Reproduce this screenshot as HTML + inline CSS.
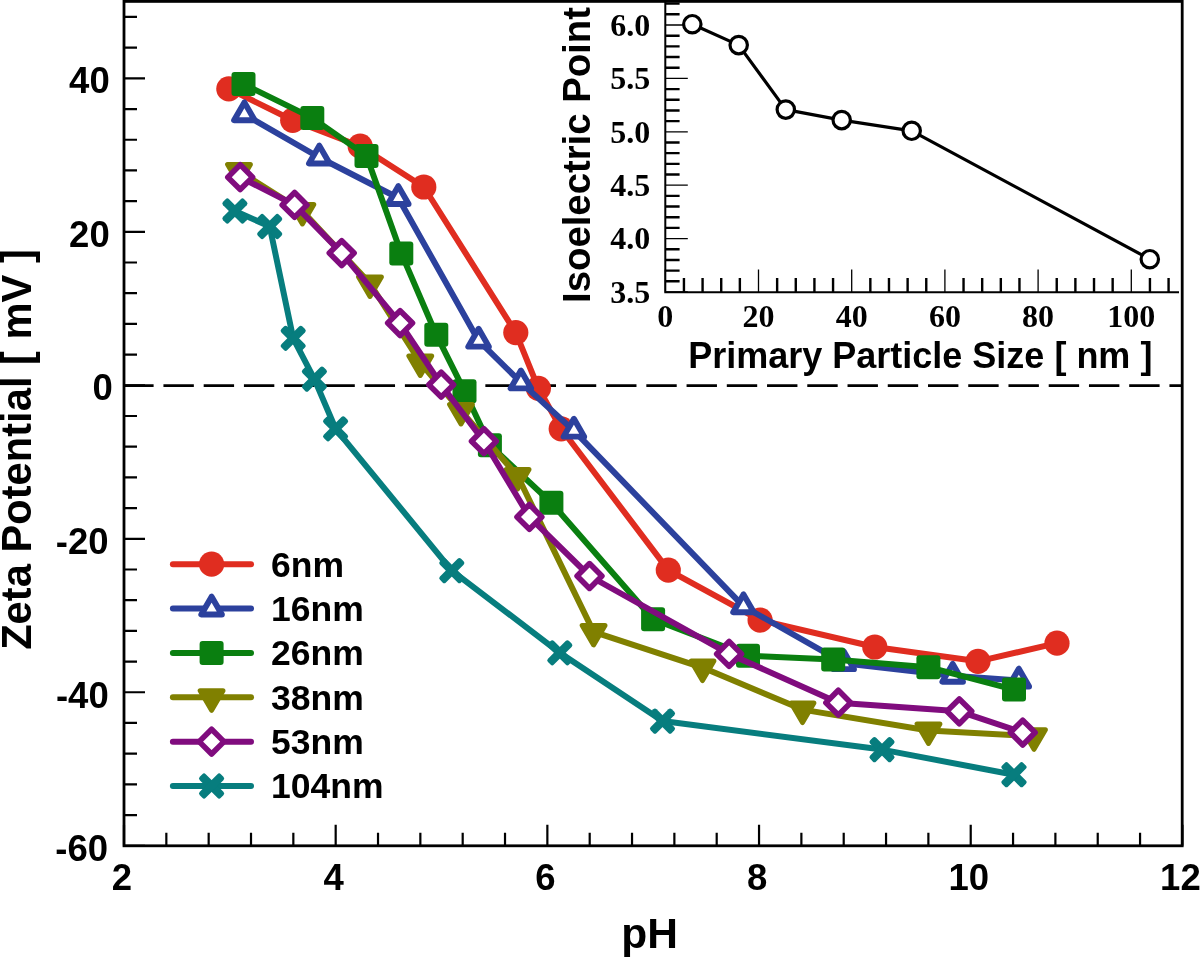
<!DOCTYPE html><html><head><meta charset="utf-8"><title>Zeta potential vs pH</title><style>html,body{margin:0;padding:0;background:#fff;width:1200px;height:957px;overflow:hidden}svg{display:block;filter:blur(0.45px)}text{font-family:"Liberation Sans",sans-serif;font-weight:bold;fill:#000}.s{font-family:"Liberation Serif",serif}</style></head><body>
<svg width="1200" height="957" viewBox="0 0 1200 957">
<rect width="1200" height="957" fill="#fff"/>
<line x1="123.2" y1="385.6" x2="1182.4" y2="385.6" stroke="#000" stroke-width="2.6" stroke-dasharray="30.4 9.84"/>
<polyline points="228.8,88.8 292.7,120.3 360.2,146.2 423.8,187 515.8,332.6 538.4,388.3 561.2,428.8 668.3,570.1 760.1,620.1 874.8,647 978,661.3 1057,643.2" fill="none" stroke="#e02d20" stroke-width="6" stroke-linejoin="round" stroke-linecap="round"/>
<circle cx="228.8" cy="88.8" r="12.6" fill="#e02d20"/>
<circle cx="292.7" cy="120.3" r="12.6" fill="#e02d20"/>
<circle cx="360.2" cy="146.2" r="12.6" fill="#e02d20"/>
<circle cx="423.8" cy="187" r="12.6" fill="#e02d20"/>
<circle cx="515.8" cy="332.6" r="12.6" fill="#e02d20"/>
<circle cx="538.4" cy="388.3" r="12.6" fill="#e02d20"/>
<circle cx="561.2" cy="428.8" r="12.6" fill="#e02d20"/>
<circle cx="668.3" cy="570.1" r="12.6" fill="#e02d20"/>
<circle cx="760.1" cy="620.1" r="12.6" fill="#e02d20"/>
<circle cx="874.8" cy="647" r="12.6" fill="#e02d20"/>
<circle cx="978" cy="661.3" r="12.6" fill="#e02d20"/>
<circle cx="1057" cy="643.2" r="12.6" fill="#e02d20"/>
<polyline points="244.4,114.3 319.3,157.5 398.3,198 478.6,340.7 520.9,382.4 573.9,430.7 743.5,606.3 843.7,663.2 952.7,675.8 1018.8,680.6" fill="none" stroke="#2c419d" stroke-width="6" stroke-linejoin="round" stroke-linecap="round"/>
<polygon points="244.4,102.4 234.1,120.25 254.7,120.25" fill="#fff" stroke="#2c419d" stroke-width="5.9" stroke-linejoin="round"/>
<polygon points="319.3,145.6 309,163.45 329.6,163.45" fill="#fff" stroke="#2c419d" stroke-width="5.9" stroke-linejoin="round"/>
<polygon points="398.3,186.1 388,203.95 408.6,203.95" fill="#fff" stroke="#2c419d" stroke-width="5.9" stroke-linejoin="round"/>
<polygon points="478.6,328.8 468.3,346.65 488.9,346.65" fill="#fff" stroke="#2c419d" stroke-width="5.9" stroke-linejoin="round"/>
<polygon points="520.9,370.5 510.6,388.35 531.2,388.35" fill="#fff" stroke="#2c419d" stroke-width="5.9" stroke-linejoin="round"/>
<polygon points="573.9,418.8 563.6,436.65 584.2,436.65" fill="#fff" stroke="#2c419d" stroke-width="5.9" stroke-linejoin="round"/>
<polygon points="743.5,594.4 733.2,612.25 753.8,612.25" fill="#fff" stroke="#2c419d" stroke-width="5.9" stroke-linejoin="round"/>
<polygon points="843.7,651.3 833.4,669.15 854,669.15" fill="#fff" stroke="#2c419d" stroke-width="5.9" stroke-linejoin="round"/>
<polygon points="952.7,663.9 942.4,681.75 963,681.75" fill="#fff" stroke="#2c419d" stroke-width="5.9" stroke-linejoin="round"/>
<polygon points="1018.8,668.7 1008.5,686.55 1029.1,686.55" fill="#fff" stroke="#2c419d" stroke-width="5.9" stroke-linejoin="round"/>
<polyline points="243.5,84.1 312.3,117.9 366.5,155.9 401.3,253.4 436.3,334.7 464.5,391.2 489.9,445.3 551.4,502.8 653.1,619.2 748,655.8 833.2,659.5 928.4,667.2 1014,689.6" fill="none" stroke="#0a7f10" stroke-width="6" stroke-linejoin="round" stroke-linecap="round"/>
<rect x="231.5" y="72.1" width="24" height="24" rx="3" fill="#0a7f10"/>
<rect x="300.3" y="105.9" width="24" height="24" rx="3" fill="#0a7f10"/>
<rect x="354.5" y="143.9" width="24" height="24" rx="3" fill="#0a7f10"/>
<rect x="389.3" y="241.4" width="24" height="24" rx="3" fill="#0a7f10"/>
<rect x="424.3" y="322.7" width="24" height="24" rx="3" fill="#0a7f10"/>
<rect x="452.5" y="379.2" width="24" height="24" rx="3" fill="#0a7f10"/>
<rect x="477.9" y="433.3" width="24" height="24" rx="3" fill="#0a7f10"/>
<rect x="539.4" y="490.8" width="24" height="24" rx="3" fill="#0a7f10"/>
<rect x="641.1" y="607.2" width="24" height="24" rx="3" fill="#0a7f10"/>
<rect x="736" y="643.8" width="24" height="24" rx="3" fill="#0a7f10"/>
<rect x="821.2" y="647.5" width="24" height="24" rx="3" fill="#0a7f10"/>
<rect x="916.4" y="655.2" width="24" height="24" rx="3" fill="#0a7f10"/>
<rect x="1002" y="677.6" width="24" height="24" rx="3" fill="#0a7f10"/>
<polyline points="239,171 302.4,211 370,283.5 420.3,362.5 461,411 517.6,476 593.6,631.9 702.5,667.6 802.5,709.6 928.5,730.5 1034,736.3" fill="none" stroke="#808000" stroke-width="6" stroke-linejoin="round" stroke-linecap="round"/>
<polygon points="227.6,164.5 250.4,164.5 239,184" fill="#808000" stroke="#808000" stroke-width="5" stroke-linejoin="round"/>
<polygon points="291,204.5 313.8,204.5 302.4,224" fill="#808000" stroke="#808000" stroke-width="5" stroke-linejoin="round"/>
<polygon points="358.6,277 381.4,277 370,296.5" fill="#808000" stroke="#808000" stroke-width="5" stroke-linejoin="round"/>
<polygon points="408.9,356 431.7,356 420.3,375.5" fill="#808000" stroke="#808000" stroke-width="5" stroke-linejoin="round"/>
<polygon points="449.6,404.5 472.4,404.5 461,424" fill="#808000" stroke="#808000" stroke-width="5" stroke-linejoin="round"/>
<polygon points="506.2,469.5 529,469.5 517.6,489" fill="#808000" stroke="#808000" stroke-width="5" stroke-linejoin="round"/>
<polygon points="582.2,625.4 605,625.4 593.6,644.9" fill="#808000" stroke="#808000" stroke-width="5" stroke-linejoin="round"/>
<polygon points="691.1,661.1 713.9,661.1 702.5,680.6" fill="#808000" stroke="#808000" stroke-width="5" stroke-linejoin="round"/>
<polygon points="791.1,703.1 813.9,703.1 802.5,722.6" fill="#808000" stroke="#808000" stroke-width="5" stroke-linejoin="round"/>
<polygon points="917.1,724 939.9,724 928.5,743.5" fill="#808000" stroke="#808000" stroke-width="5" stroke-linejoin="round"/>
<polygon points="1022.6,729.8 1045.4,729.8 1034,749.3" fill="#808000" stroke="#808000" stroke-width="5" stroke-linejoin="round"/>
<polyline points="240.2,177.2 294.6,204.9 341.7,253.1 400.1,323.1 441.2,384.7 483.9,441.2 529.4,516.9 589.5,576 729.1,653.9 838.3,702.7 959.3,711.3 1022.7,732.6" fill="none" stroke="#800c7e" stroke-width="6" stroke-linejoin="round" stroke-linecap="round"/>
<polygon points="240.2,164.8 252.6,177.2 240.2,189.6 227.8,177.2" fill="#fff" stroke="#800c7e" stroke-width="5.6" stroke-linejoin="round"/>
<polygon points="294.6,192.5 307,204.9 294.6,217.3 282.2,204.9" fill="#fff" stroke="#800c7e" stroke-width="5.6" stroke-linejoin="round"/>
<polygon points="341.7,240.7 354.1,253.1 341.7,265.5 329.3,253.1" fill="#fff" stroke="#800c7e" stroke-width="5.6" stroke-linejoin="round"/>
<polygon points="400.1,310.7 412.5,323.1 400.1,335.5 387.7,323.1" fill="#fff" stroke="#800c7e" stroke-width="5.6" stroke-linejoin="round"/>
<polygon points="441.2,372.3 453.6,384.7 441.2,397.1 428.8,384.7" fill="#fff" stroke="#800c7e" stroke-width="5.6" stroke-linejoin="round"/>
<polygon points="483.9,428.8 496.3,441.2 483.9,453.6 471.5,441.2" fill="#fff" stroke="#800c7e" stroke-width="5.6" stroke-linejoin="round"/>
<polygon points="529.4,504.5 541.8,516.9 529.4,529.3 517,516.9" fill="#fff" stroke="#800c7e" stroke-width="5.6" stroke-linejoin="round"/>
<polygon points="589.5,563.6 601.9,576 589.5,588.4 577.1,576" fill="#fff" stroke="#800c7e" stroke-width="5.6" stroke-linejoin="round"/>
<polygon points="729.1,641.5 741.5,653.9 729.1,666.3 716.7,653.9" fill="#fff" stroke="#800c7e" stroke-width="5.6" stroke-linejoin="round"/>
<polygon points="838.3,690.3 850.7,702.7 838.3,715.1 825.9,702.7" fill="#fff" stroke="#800c7e" stroke-width="5.6" stroke-linejoin="round"/>
<polygon points="959.3,698.9 971.7,711.3 959.3,723.7 946.9,711.3" fill="#fff" stroke="#800c7e" stroke-width="5.6" stroke-linejoin="round"/>
<polygon points="1022.7,720.2 1035.1,732.6 1022.7,745 1010.3,732.6" fill="#fff" stroke="#800c7e" stroke-width="5.6" stroke-linejoin="round"/>
<polyline points="234.9,211 269.7,226.5 293.2,338.3 314.4,379.1 335.6,428.8 451.8,570.6 559.8,652.8 662.5,721.1 882,749.6 1014,774.7" fill="none" stroke="#077d7e" stroke-width="6" stroke-linejoin="round" stroke-linecap="round"/>
<g transform="translate(234.9 211)" fill="#077d7e"><rect x="-14.9" y="-4.2" width="29.8" height="8.4" rx="2.4" transform="rotate(45)"/><rect x="-14.9" y="-4.2" width="29.8" height="8.4" rx="2.4" transform="rotate(-45)"/></g>
<g transform="translate(269.7 226.5)" fill="#077d7e"><rect x="-14.9" y="-4.2" width="29.8" height="8.4" rx="2.4" transform="rotate(45)"/><rect x="-14.9" y="-4.2" width="29.8" height="8.4" rx="2.4" transform="rotate(-45)"/></g>
<g transform="translate(293.2 338.3)" fill="#077d7e"><rect x="-14.9" y="-4.2" width="29.8" height="8.4" rx="2.4" transform="rotate(45)"/><rect x="-14.9" y="-4.2" width="29.8" height="8.4" rx="2.4" transform="rotate(-45)"/></g>
<g transform="translate(314.4 379.1)" fill="#077d7e"><rect x="-14.9" y="-4.2" width="29.8" height="8.4" rx="2.4" transform="rotate(45)"/><rect x="-14.9" y="-4.2" width="29.8" height="8.4" rx="2.4" transform="rotate(-45)"/></g>
<g transform="translate(335.6 428.8)" fill="#077d7e"><rect x="-14.9" y="-4.2" width="29.8" height="8.4" rx="2.4" transform="rotate(45)"/><rect x="-14.9" y="-4.2" width="29.8" height="8.4" rx="2.4" transform="rotate(-45)"/></g>
<g transform="translate(451.8 570.6)" fill="#077d7e"><rect x="-14.9" y="-4.2" width="29.8" height="8.4" rx="2.4" transform="rotate(45)"/><rect x="-14.9" y="-4.2" width="29.8" height="8.4" rx="2.4" transform="rotate(-45)"/></g>
<g transform="translate(559.8 652.8)" fill="#077d7e"><rect x="-14.9" y="-4.2" width="29.8" height="8.4" rx="2.4" transform="rotate(45)"/><rect x="-14.9" y="-4.2" width="29.8" height="8.4" rx="2.4" transform="rotate(-45)"/></g>
<g transform="translate(662.5 721.1)" fill="#077d7e"><rect x="-14.9" y="-4.2" width="29.8" height="8.4" rx="2.4" transform="rotate(45)"/><rect x="-14.9" y="-4.2" width="29.8" height="8.4" rx="2.4" transform="rotate(-45)"/></g>
<g transform="translate(882 749.6)" fill="#077d7e"><rect x="-14.9" y="-4.2" width="29.8" height="8.4" rx="2.4" transform="rotate(45)"/><rect x="-14.9" y="-4.2" width="29.8" height="8.4" rx="2.4" transform="rotate(-45)"/></g>
<g transform="translate(1014 774.7)" fill="#077d7e"><rect x="-14.9" y="-4.2" width="29.8" height="8.4" rx="2.4" transform="rotate(45)"/><rect x="-14.9" y="-4.2" width="29.8" height="8.4" rx="2.4" transform="rotate(-45)"/></g>
<rect x="124" y="1.4" width="1058.2" height="844.4" fill="none" stroke="#000" stroke-width="2.8"/>
<path d="M124 845.74h21M124 815.04h13M124 784.35h13M124 753.65h13M124 722.96h13M124 692.26h21M124 661.56h13M124 630.87h13M124 600.17h13M124 569.48h13M124 538.78h21M124 508.08h13M124 477.39h13M124 446.69h13M124 416h13M124 385.3h21M124 354.6h13M124 323.91h13M124 293.21h13M124 262.52h13M124 231.82h21M124 201.12h13M124 170.43h13M124 139.73h13M124 109.04h13M124 78.34h21M124 47.64h13M124 16.95h13M124 845.7v-21M166.34 845.7v-13M208.67 845.7v-13M251.01 845.7v-13M293.34 845.7v-13M335.68 845.7v-21M378.02 845.7v-13M420.35 845.7v-13M462.69 845.7v-13M505.02 845.7v-13M547.36 845.7v-21M589.7 845.7v-13M632.03 845.7v-13M674.37 845.7v-13M716.7 845.7v-13M759.04 845.7v-21M801.38 845.7v-13M843.71 845.7v-13M886.05 845.7v-13M928.38 845.7v-13M970.72 845.7v-21M1013.06 845.7v-13M1055.39 845.7v-13M1097.73 845.7v-13M1140.06 845.7v-13M1182.4 845.7v-21" stroke="#000" stroke-width="2.2" fill="none"/>
<text x="109.7" y="93.04" font-size="36.5" text-anchor="end">40</text>
<text x="109.7" y="246.52" font-size="36.5" text-anchor="end">20</text>
<text x="112.7" y="400" font-size="36.5" text-anchor="end">0</text>
<text x="108.6" y="554.18" font-size="36.5" text-anchor="end">-20</text>
<text x="108.7" y="707.66" font-size="36.5" text-anchor="end">-40</text>
<text x="108" y="861.14" font-size="36.5" text-anchor="end">-60</text>
<text x="122" y="890.1" font-size="36.5" text-anchor="middle">2</text>
<text x="333.68" y="890.1" font-size="36.5" text-anchor="middle">4</text>
<text x="545.36" y="890.1" font-size="36.5" text-anchor="middle">6</text>
<text x="757.04" y="890.1" font-size="36.5" text-anchor="middle">8</text>
<text x="968.72" y="890.1" font-size="36.5" text-anchor="middle">10</text>
<text x="1180.4" y="890.1" font-size="36.5" text-anchor="middle">12</text>
<text x="649.5" y="947.5" font-size="42.5" text-anchor="middle">pH</text>
<text transform="translate(30.7,449.5) rotate(-90)" font-size="41.7" text-anchor="middle">Zeta Potential [ mV ]</text>
<line x1="172.9" y1="564.2" x2="251" y2="564.2" stroke="#e02d20" stroke-width="6" stroke-linecap="round"/>
<circle cx="211.6" cy="564.2" r="12.6" fill="#e02d20"/>
<text x="271" y="576.6" font-size="35.5">6nm</text>
<line x1="172.9" y1="608.56" x2="251" y2="608.56" stroke="#2c419d" stroke-width="6" stroke-linecap="round"/>
<polygon points="211.6,596.66 201.3,614.51 221.9,614.51" fill="#fff" stroke="#2c419d" stroke-width="5.9" stroke-linejoin="round"/>
<text x="271" y="620.96" font-size="35.5">16nm</text>
<line x1="172.9" y1="652.92" x2="251" y2="652.92" stroke="#0a7f10" stroke-width="6" stroke-linecap="round"/>
<rect x="199.6" y="640.92" width="24" height="24" rx="3" fill="#0a7f10"/>
<text x="271" y="665.32" font-size="35.5">26nm</text>
<line x1="172.9" y1="697.28" x2="251" y2="697.28" stroke="#808000" stroke-width="6" stroke-linecap="round"/>
<polygon points="200.2,690.78 223,690.78 211.6,710.28" fill="#808000" stroke="#808000" stroke-width="5" stroke-linejoin="round"/>
<text x="271" y="709.68" font-size="35.5">38nm</text>
<line x1="172.9" y1="741.64" x2="251" y2="741.64" stroke="#800c7e" stroke-width="6" stroke-linecap="round"/>
<polygon points="211.6,729.24 224,741.64 211.6,754.04 199.2,741.64" fill="#fff" stroke="#800c7e" stroke-width="5.6" stroke-linejoin="round"/>
<text x="271" y="754.04" font-size="35.5">53nm</text>
<line x1="172.9" y1="786" x2="251" y2="786" stroke="#077d7e" stroke-width="6" stroke-linecap="round"/>
<g transform="translate(211.6 786)" fill="#077d7e"><rect x="-14.9" y="-4.2" width="29.8" height="8.4" rx="2.4" transform="rotate(45)"/><rect x="-14.9" y="-4.2" width="29.8" height="8.4" rx="2.4" transform="rotate(-45)"/></g>
<text x="271" y="798.4" font-size="35.5">104nm</text>
<path d="M665.3 0V292.2H1179" stroke="#000" stroke-width="2" fill="none"/>
<path d="M665.3 281.32h14.3M665.3 270.64h14.3M665.3 259.96h14.3M665.3 249.28h14.3M665.3 227.92h14.3M665.3 217.24h14.3M665.3 206.56h14.3M665.3 195.88h14.3M665.3 174.52h14.3M665.3 163.84h14.3M665.3 153.16h14.3M665.3 142.48h14.3M665.3 121.12h14.3M665.3 110.44h14.3M665.3 99.76h14.3M665.3 89.08h14.3M665.3 67.72h14.3M665.3 57.04h14.3M665.3 46.36h14.3M665.3 35.68h14.3M665.3 14.32h14.3M665.3 3.64h14.3M683.94 292.2v-14.3M702.58 292.2v-14.3M721.22 292.2v-14.3M739.86 292.2v-14.3M777.14 292.2v-14.3M795.78 292.2v-14.3M814.42 292.2v-14.3M833.06 292.2v-14.3M870.34 292.2v-14.3M888.98 292.2v-14.3M907.62 292.2v-14.3M926.26 292.2v-14.3M963.54 292.2v-14.3M982.18 292.2v-14.3M1000.82 292.2v-14.3M1019.46 292.2v-14.3M1056.74 292.2v-14.3M1075.38 292.2v-14.3M1094.02 292.2v-14.3M1112.66 292.2v-14.3M1149.94 292.2v-14.3M1168.58 292.2v-14.3" stroke="#000" stroke-width="2.4" fill="none"/>
<path d="M665.3 292h22.5M665.3 238.6h22.5M665.3 185.2h22.5M665.3 131.8h22.5M665.3 78.4h22.5M665.3 25h22.5M665.3 292.2v-22.8M758.5 292.2v-22.8M851.7 292.2v-22.8M944.9 292.2v-22.8M1038.1 292.2v-22.8M1131.3 292.2v-22.8" stroke="#000" stroke-width="1.3" fill="none"/>
<text class="s" x="650.3" y="35.8" font-size="32" text-anchor="end">6.0</text>
<text class="s" x="650.3" y="89.2" font-size="32" text-anchor="end">5.5</text>
<text class="s" x="650.3" y="142.6" font-size="32" text-anchor="end">5.0</text>
<text class="s" x="650.3" y="196" font-size="32" text-anchor="end">4.5</text>
<text class="s" x="650.3" y="249.4" font-size="32" text-anchor="end">4.0</text>
<text class="s" x="650.3" y="302.8" font-size="32" text-anchor="end">3.5</text>
<text class="s" x="665.3" y="327" font-size="32" text-anchor="middle">0</text>
<text class="s" x="758.5" y="327" font-size="32" text-anchor="middle">20</text>
<text class="s" x="851.7" y="327" font-size="32" text-anchor="middle">40</text>
<text class="s" x="944.9" y="327" font-size="32" text-anchor="middle">60</text>
<text class="s" x="1038.1" y="327" font-size="32" text-anchor="middle">80</text>
<text class="s" x="1131.3" y="327" font-size="32" text-anchor="middle">100</text>
<text x="688.2" y="368" font-size="36" >Primary Particle Size [ nm ]</text>
<text transform="translate(589.5,155) rotate(-90)" font-size="38.3" text-anchor="middle">Isoelectric Point</text>
<polyline points="692.3,24.2 738.7,45.1 785.8,109.6 841.7,120.1 911.7,130.8 1149.8,259.2" fill="none" stroke="#000" stroke-width="3.2" stroke-linejoin="round" stroke-linecap="round"/>
<circle cx="692.3" cy="24.2" r="8.7" fill="#fff" stroke="#000" stroke-width="3.2"/>
<circle cx="738.7" cy="45.1" r="8.7" fill="#fff" stroke="#000" stroke-width="3.2"/>
<circle cx="785.8" cy="109.6" r="8.7" fill="#fff" stroke="#000" stroke-width="3.2"/>
<circle cx="841.7" cy="120.1" r="8.7" fill="#fff" stroke="#000" stroke-width="3.2"/>
<circle cx="911.7" cy="130.8" r="8.7" fill="#fff" stroke="#000" stroke-width="3.2"/>
<circle cx="1149.8" cy="259.2" r="8.7" fill="#fff" stroke="#000" stroke-width="3.2"/>
</svg></body></html>
